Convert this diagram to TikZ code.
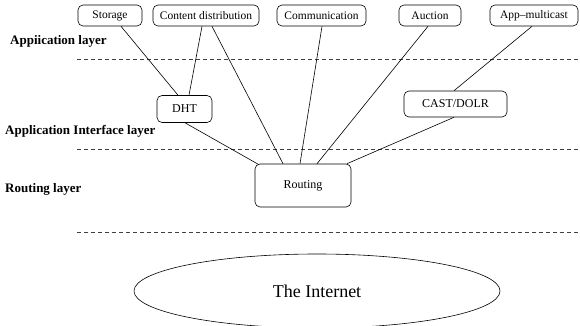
\documentclass[tikz,border=0pt]{standalone}
\usepackage{fontspec}
\setmainfont{Liberation Serif}
\usetikzlibrary{shapes.geometric}
\begin{document}
\begin{tikzpicture}[x=1pt,y=-1pt,
  appbox/.style={draw, rounded corners=5pt, line width=0.6pt, inner sep=0pt,
    minimum height=21pt, font=\fontsize{11.5}{13}\selectfont},
  midbox/.style={draw, rounded corners=5pt, line width=0.6pt, inner sep=0pt,
    font=\fontsize{12}{14}\selectfont},
  layer/.style={anchor=west, inner sep=0pt, font=\bfseries\fontsize{13}{15}\selectfont},
  sep/.style={dashed, dash pattern=on 4pt off 3pt, line width=0.6pt, black!75},
  link/.style={line width=0.6pt}]
\useasboundingbox (0,0) rectangle (580,326);

% application layer boxes
\node[appbox, minimum width=64pt]  (storage) at (110,15.5) {Storage};
\node[appbox, minimum width=106pt] (content) at (206,15.5) {Content distribution};
\node[appbox, minimum width=89pt]  (comm)    at (321.5,15.5) {Communication};
\node[appbox, minimum width=62pt]  (auction) at (430,15.5) {Auction};
\node[appbox, minimum width=88pt]  (appm)    at (534,15.5) {App--multicast};

% interface layer boxes
\node[midbox, minimum width=55pt, minimum height=27pt]  (dht)  at (184.5,109) {DHT};
\node[midbox, minimum width=103pt, minimum height=26pt] (cast) at (455.5,104) {CAST/DOLR};

% routing
\node[midbox, minimum width=96pt, minimum height=43pt] (routing) at (303,185.5) {Routing};

% the network underneath
\node[draw, ellipse, line width=0.6pt, minimum width=366pt, minimum height=74pt,
  inner sep=0pt, font=\fontsize{18}{20}\selectfont] (internet) at (317,291) {The Internet};

% layer names
\node[layer] (l1) at (10,41) {Appiication layer};
\node[layer] (l2) at (5,131) {Application Interface layer};
\node[layer] (l3) at (5,189) {Routing layer};

% layer separators
\draw[sep] (77,59.5) -- (580,59.5);
\draw[sep] (77,149) -- (580,149);
\draw[sep] (77,232) -- (580,232);

% connections
\draw[link] ([xshift=11pt]storage.south) -- ([xshift=-6.5pt]dht.north);
\draw[link] ([xshift=-4pt]content.south) -- ([xshift=4.5pt]dht.north);
\draw[link] ([xshift=6pt]content.south) -- ([xshift=-20pt]routing.north);
\draw[link] ([xshift=0.5pt]comm.south) -- ([xshift=-3pt]routing.north);
\draw[link] ([xshift=-2pt]auction.south) -- ([xshift=14pt]routing.north);
\draw[link] ([xshift=-2pt]appm.south) -- ([xshift=-1.5pt]cast.north);
\draw[link] ([xshift=0.5pt]dht.south) -- ([xshift=-44pt,yshift=-1pt]routing.north);
\draw[link] ([xshift=-1.5pt]cast.south) -- ([xshift=44pt]routing.north);
\end{tikzpicture}
\end{document}
